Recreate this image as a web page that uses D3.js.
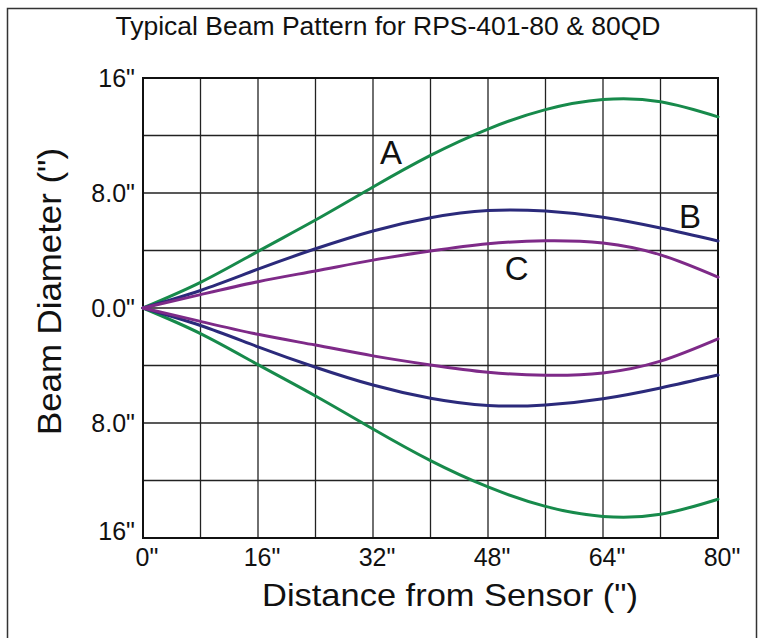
<!DOCTYPE html>
<html>
<head>
<meta charset="utf-8">
<script src="https://cdn.jsdelivr.net/npm/d3@7"></script>
<style>
  body { margin: 0; background: #fff; }
  text { font-family: "Liberation Sans", Arial, sans-serif; fill: #111; }
</style>
</head>
<body>
<div class="chart"></div>
<script>
// distance from sensor (inches)
var distance = [0, 8, 16, 24, 32, 40, 48, 56, 64, 72, 80];
// half of beam diameter (inches) for each beam
var beamA = [0, 1.78, 3.94, 6.12, 8.42, 10.62, 12.45, 13.8, 14.5, 14.35, 13.3];
var beamB = [0, 1.22, 2.7, 4.12, 5.36, 6.28, 6.78, 6.74, 6.31, 5.56, 4.66];
var beamC = [0, 0.93, 1.83, 2.58, 3.33, 3.96, 4.47, 4.68, 4.52, 3.7, 2.15];

var beamNames = ['A', 'B', 'C'];
var beamColors = ['#178a4b', '#2b2a7b', '#7e2a88'];
// where each curve's letter sits, in data units
var labelAt = [[34.5, 10.0], [76.1, 5.6], [52.0, 1.95]];

var xTicks = [0, 16, 32, 48, 64, 80];
var xTickLabels = ['0"', '16"', '32"', '48"', '64"', '80"'];
var yTicks = [16, 8, 0, -8, -16];
var yTickLabels = ['16"', '8.0"', '0.0"', '8.0"', '16"'];

var width = 770, height = 638;
var plotLeft = 143, plotRight = 718, plotTop = 78, plotBottom = 538;

var svg = d3.select('.chart').append('svg')
	.attr('width', width)
	.attr('height', height);

svg.append('rect')
	.attr('width', width).attr('height', height)
	.attr('fill', '#fff');

// outer frame
svg.append('rect')
	.attr('x', 7.5).attr('y', 8.5)
	.attr('width', 749).attr('height', 660)
	.attr('fill', 'none')
	.attr('stroke', '#333')
	.attr('stroke-width', 1.5);

var x = d3.scaleLinear().domain([0, 80]).range([plotLeft, plotRight]);
var y = d3.scaleLinear().domain([-16, 16]).range([plotBottom, plotTop]);

// grid
var grid = svg.append('g').attr('class', 'grid')
	.attr('stroke', '#222')
	.attr('stroke-width', 1.3);
grid.selectAll('line.v')
	.data(d3.range(8, 80, 8))
	.enter().append('line')
	.attr('class', 'v')
	.attr('x1', function(d) { return x(d); })
	.attr('x2', function(d) { return x(d); })
	.attr('y1', plotTop).attr('y2', plotBottom);
grid.selectAll('line.h')
	.data(d3.range(-12, 16, 4))
	.enter().append('line')
	.attr('class', 'h')
	.attr('x1', plotLeft).attr('x2', plotRight)
	.attr('y1', function(d) { return y(d); })
	.attr('y2', function(d) { return y(d); });

// plot frame
svg.append('rect')
	.attr('x', plotLeft).attr('y', plotTop)
	.attr('width', plotRight - plotLeft).attr('height', plotBottom - plotTop)
	.attr('fill', 'none')
	.attr('stroke', '#111')
	.attr('stroke-width', 2);

// curves, drawn above and below the axis
var beams = [beamA, beamB, beamC];
var line = d3.line()
	.x(function(d) { return x(d[0]); })
	.y(function(d) { return y(d[1]); })
	.curve(d3.curveNatural);

beams.forEach(function(vals, i) {
	[1, -1].forEach(function(sign) {
		var pts = distance.map(function(d, j) { return [d, sign * vals[j]]; });
		svg.append('path')
			.attr('class', 'beam beam' + beamNames[i])
			.attr('d', line(pts))
			.attr('fill', 'none')
			.attr('stroke', beamColors[i])
			.attr('stroke-width', 3)
			.attr('stroke-linecap', 'round');
	});
});

// curve letters
svg.selectAll('text.beam-label')
	.data(beamNames)
	.enter().append('text')
	.attr('class', 'beam-label')
	.attr('x', function(d, i) { return x(labelAt[i][0]); })
	.attr('y', function(d, i) { return y(labelAt[i][1]); })
	.attr('text-anchor', 'middle')
	.attr('font-size', 33)
	.text(function(d) { return d; });

// axes (labels only)
var xAxis = svg.append('g')
	.attr('transform', 'translate(0,' + plotBottom + ')')
	.call(d3.axisBottom(x).tickValues(xTicks).tickSize(0).tickPadding(10)
		.tickFormat(function(d, i) { return xTickLabels[i]; }));
xAxis.select('.domain').remove();
xAxis.selectAll('text')
	.attr('font-size', 25)
	.attr('font-family', '"Liberation Sans", Arial, sans-serif')
	.attr('fill', '#111')
	.attr('dx', 3.5);

var yAxis = svg.append('g')
	.attr('transform', 'translate(' + plotLeft + ',0)')
	.call(d3.axisLeft(y).tickValues(yTicks).tickSize(0).tickPadding(8)
		.tickFormat(function(d, i) { return yTickLabels[i]; }));
yAxis.select('.domain').remove();
yAxis.selectAll('text')
	.attr('font-size', 25)
	.attr('font-family', '"Liberation Sans", Arial, sans-serif')
	.attr('fill', '#111');
// bottom label sits a little higher in the original
yAxis.selectAll('.tick').filter(function(d) { return d === -16; })
	.select('text').attr('y', -7);

// titles
svg.append('text')
	.attr('x', 388).attr('y', 35)
	.attr('text-anchor', 'middle')
	.attr('font-size', 26.5)
	.text('Typical Beam Pattern for RPS-401-80 & 80QD');

svg.append('text')
	.attr('x', 450).attr('y', 606)
	.attr('text-anchor', 'middle')
	.attr('font-size', 32)
	.attr('textLength', 376)
	.attr('lengthAdjust', 'spacingAndGlyphs')
	.text('Distance from Sensor (")');

svg.append('text')
	.attr('transform', 'translate(61,291.5) rotate(-90)')
	.attr('text-anchor', 'middle')
	.attr('font-size', 32.5)
	.attr('textLength', 287)
	.attr('lengthAdjust', 'spacingAndGlyphs')
	.text('Beam Diameter (")');
</script>
</body>
</html>
